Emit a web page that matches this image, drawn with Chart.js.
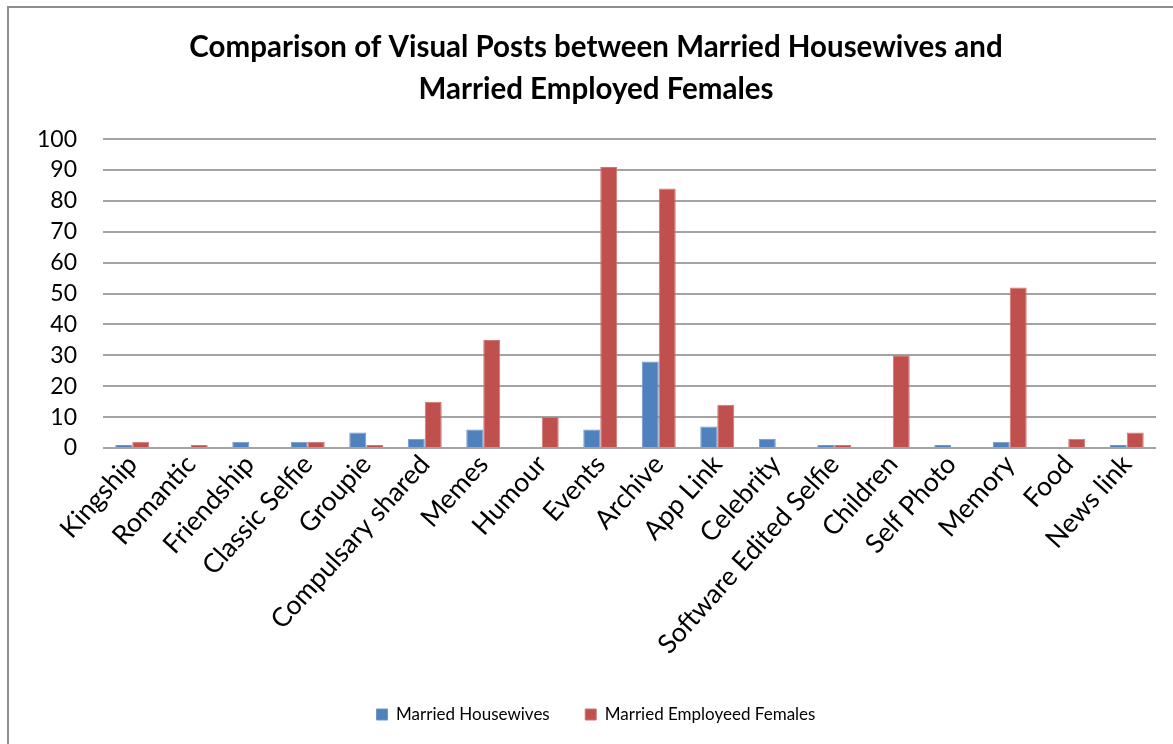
<!DOCTYPE html>
<html>
<head>
<meta charset="utf-8">
<script src="https://cdn.jsdelivr.net/npm/chart.js@4/dist/chart.umd.min.js"></script>
<style>
  html, body { margin: 0; padding: 0; background: #fff; overflow: hidden; }
  #wrap { position: absolute; left: 0; top: 0; width: 1173px; height: 744px; }
</style>
</head>
<body>
<div id="wrap"><canvas id="c" width="1173" height="744"></canvas></div>
<script>
// Visual post categories
const categories = [
  'Kingship', 'Romantic', 'Friendship', 'Classic Selfie', 'Groupie',
  'Compulsary shared', 'Memes', 'Humour', 'Events', 'Archive', 'App Link',
  'Celebrity', 'Software Edited Selfie', 'Children', 'Self Photo', 'Memory',
  'Food', 'News link'
];

// Counts per group
const housewives = [1, 0, 2, 2, 5, 3, 6, 0, 6, 28, 7, 3, 1, 0, 1, 2, 0, 1];
const employed   = [2, 1, 0, 2, 1, 15, 35, 10, 91, 84, 14, 0, 1, 30, 0, 52, 3, 5];

// Y axis ticks
const yTicks = [0, 10, 20, 30, 40, 50, 60, 70, 80, 90, 100];

const FONT = "Lato, 'Open Sans', 'Liberation Sans', sans-serif";

// Outer frame of the chart object (left and top edges)
const framePlugin = {
  id: 'frame',
  beforeDraw(chart) {
    const ctx = chart.ctx;
    ctx.save();
    ctx.strokeStyle = '#8e8e8e';
    ctx.lineWidth = 2;
    ctx.beginPath();
    ctx.moveTo(8, 744);
    ctx.lineTo(8, 7);
    ctx.lineTo(1173, 7);
    ctx.stroke();
    ctx.restore();
  }
};

new Chart(document.getElementById('c'), {
  type: 'bar',
  data: {
    labels: categories,
    datasets: [
      {
        label: 'Married Housewives',
        data: housewives,
        backgroundColor: '#4F81BD',
        borderColor: '#6f97cb',
        borderWidth: 1,
        categoryPercentage: 0.58,
        barPercentage: 1.0
      },
      {
        label: 'Married Employeed Females',
        data: employed,
        backgroundColor: '#C0504D',
        borderColor: '#cf7673',
        borderWidth: 1,
        categoryPercentage: 0.58,
        barPercentage: 1.0
      }
    ]
  },
  options: {
    responsive: false,
    animation: false,
    layout: { padding: { left: 36, right: 17, top: 0, bottom: 11 } },
    plugins: {
      title: {
        display: true,
        text: ['Comparison of Visual Posts between Married Housewives and', 'Married Employed Females'],
        color: '#000',
        font: { family: FONT, size: 29.5, weight: 'bold', lineHeight: 1.41 },
        padding: { top: 27, bottom: 29 }
      },
      legend: {
        display: true,
        position: 'bottom',
        labels: {
          color: '#000',
          font: { family: FONT, size: 17 },
          boxWidth: 11,
          boxHeight: 11,
          padding: 10,
          useBorderRadius: false,
          // wider gap after each entry
          generateLabels(chart) {
            const items = Chart.defaults.plugins.legend.labels.generateLabels(chart);
            items.forEach((it, i) => { if (i < items.length - 1) it.text += '\u2002\u2002\u2002'; });
            return items;
          }
        }
      },
      tooltip: { enabled: false }
    },
    scales: {
      x: {
        grid: { display: false, drawTicks: false },
        border: { display: false },
        ticks: {
          color: '#000',
          font: { family: FONT, size: 26.5 },
          minRotation: 48,
          maxRotation: 48,
          autoSkip: false,
          padding: 1
        },
        afterFit(scale) { scale.height = 248; }
      },
      y: {
        min: 0,
        max: 100,
        afterBuildTicks(scale) { scale.ticks = yTicks.map(v => ({ value: v })); },
        grid: { color: '#a3a3a3', lineWidth: 2, drawTicks: false },
        border: { display: false },
        ticks: {
          color: '#000',
          font: { family: FONT, size: 23 },
          padding: 26,
          autoSkip: false
        },
        afterFit(scale) { scale.width = 67; }
      }
    }
  },
  plugins: [framePlugin]
});
</script>
</body>
</html>
